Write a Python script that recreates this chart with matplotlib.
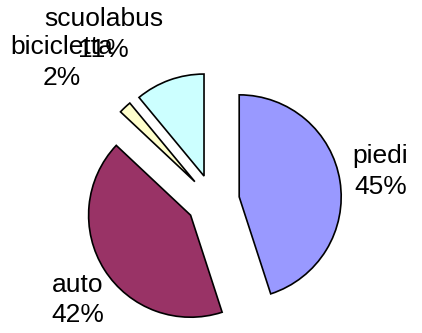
import numpy as np
import matplotlib
matplotlib.use("Agg")
import matplotlib.pyplot as plt

plt.rcParams["font.family"] = ["Liberation Sans", "DejaVu Sans"]

# modo di arrivare a scuola
labels = ["piedi", "auto", "bicicletta", "scuolabus"]
percent = [45, 42, 2, 11]
colors = ["#9999FF", "#993366", "#FFFFCC", "#CCFFFF"]

# label anchors (data units, pie radius = 1)
label_xy = [(1.64, 0.29), (-1.33, -0.97), (-1.48, 1.36), (-1.07, 1.63)]

W, H = 422, 333
cx, cy, r = 213, 132, 102  # pie centre / radius in pixels

fig = plt.figure(figsize=(W / 100, H / 100), dpi=100)
ax = fig.add_axes([0, 0, 1, 1])

ax.pie(percent, colors=colors, startangle=90, counterclock=False,
       explode=[0.26] * len(percent), radius=1,
       wedgeprops=dict(edgecolor="black", linewidth=1.2))

for name, p, (x, y) in zip(labels, percent, label_xy):
    ax.text(x, y, f"{name}\n{p}%", ha="center", va="center",
            multialignment="center", fontsize=19, linespacing=1.35)

ax.set_xlim(-cx / r, (W - cx) / r)
ax.set_ylim(-cy / r, (H - cy) / r)
ax.set_aspect("equal")
ax.axis("off")

fig.savefig("out.png", dpi=100, facecolor="white")
